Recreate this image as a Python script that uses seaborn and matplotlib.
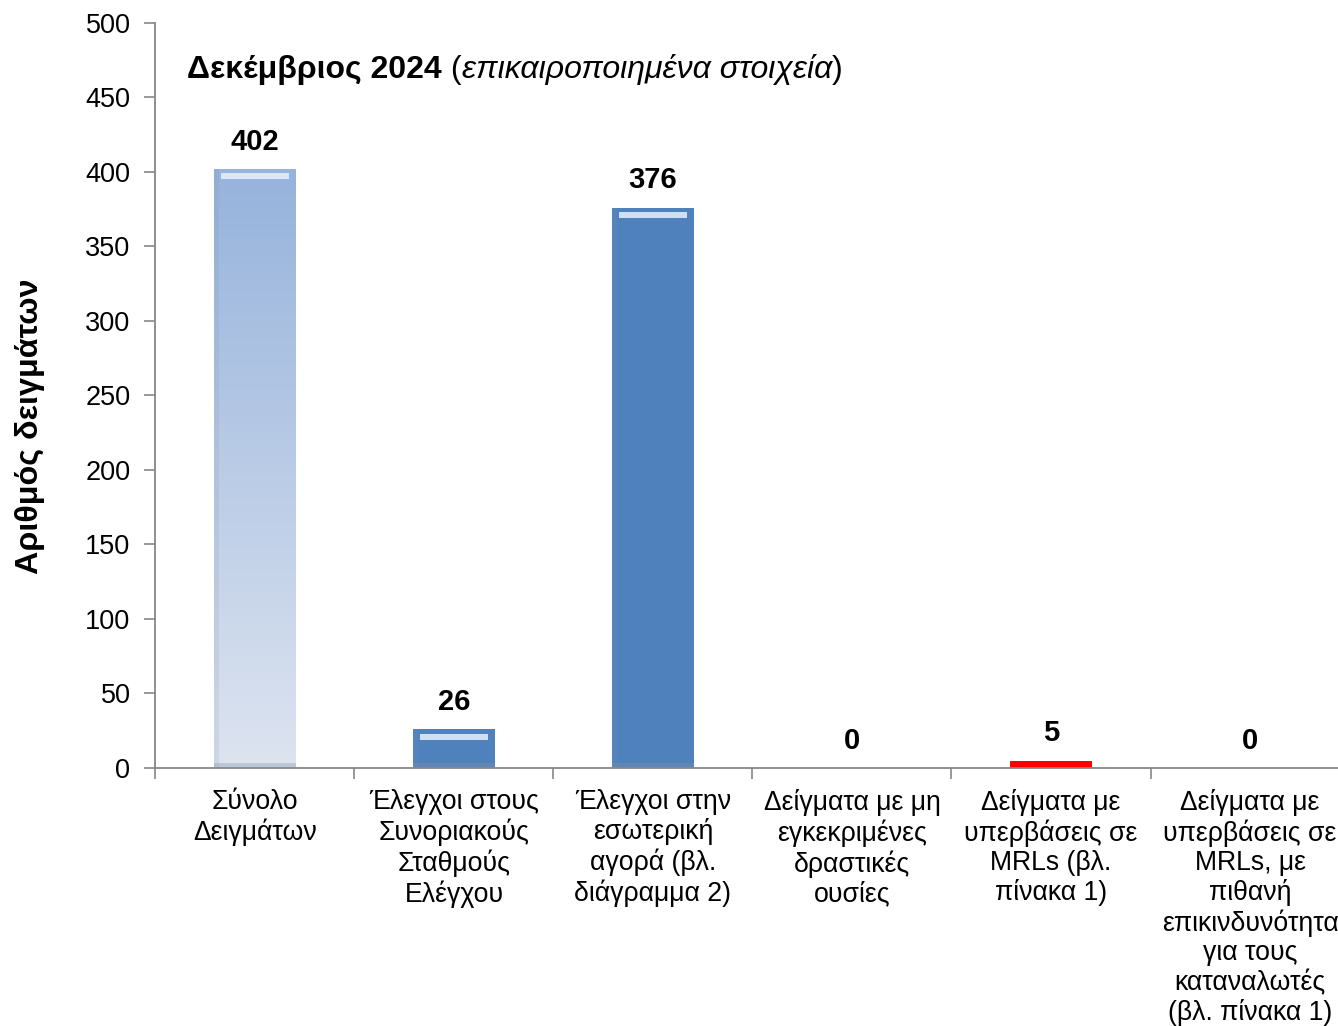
import numpy as np
import matplotlib
matplotlib.use("Agg")
import matplotlib.pyplot as plt
import seaborn as sns

# data
categories = [
    "Σύνολο\nΔειγμάτων",
    "Έλεγχοι στους\nΣυνοριακούς\nΣταθμούς\nΕλέγχου",
    "Έλεγχοι στην\nεσωτερική\nαγορά (βλ.\nδιάγραμμα 2)",
    "Δείγματα με μη\nεγκεκριμένες\nδραστικές\nουσίες",
    "Δείγματα με\nυπερβάσεις σε\nMRLs (βλ.\nπίνακα 1)",
    "Δείγματα με\nυπερβάσεις σε\nMRLs, με\nπιθανή\nεπικινδυνότητα\nγια τους\nκαταναλωτές\n(βλ. πίνακα 1)",
]
values = [402, 26, 376, 0, 5, 0]
bar_colors = ["#A9BEDF", "#4F81BD", "#4F81BD", "#4F81BD", "#FF0000", "#4F81BD"]

sns.set_style("white")
plt.rcParams['font.family'] = ['Liberation Sans', 'DejaVu Sans']
plt.rcParams['text.color'] = 'black'
plt.rcParams['axes.labelcolor'] = 'black'

fig = plt.figure(figsize=(13.38, 10.26), dpi=100)
ax = fig.add_axes([0.1162, 0.2515, 0.8924, 0.7261])

sns.barplot(x=list(range(len(values))), y=values, hue=list(range(len(values))),
            palette=bar_colors, legend=False, width=0.412, saturation=1,
            edgecolor="none", ax=ax)

# gradient fill for the first bar, bevel-like strips on each bar
for i, p in enumerate(ax.patches):
    x0, w, h = p.get_x(), p.get_width(), p.get_height()
    if h <= 0:
        continue
    if i == 0:
        grad = np.linspace(0, 1, 256).reshape(-1, 1)
        cmap = matplotlib.colors.LinearSegmentedColormap.from_list(
            "g", ["#DDE4F0", "#96B3DC"])
        im = ax.imshow(grad, cmap=cmap, aspect="auto", origin="lower",
                       extent=[x0, x0 + w, 0, h], zorder=p.get_zorder() + 0.1)
        im.set_clip_path(p)
    if h > 10:
        ax.fill_between([x0 + w * 0.08, x0 + w * 0.92], h - 7, h - 3,
                        color="#E8F2FF", alpha=0.85, lw=0, zorder=5)
        ax.fill_between([x0, x0 + w], 0, 3, color="#7F90A8", alpha=0.35,
                        lw=0, zorder=5)
        ax.fill_between([x0, x0 + w * 0.06], 0, h, color="#7F90A8", alpha=0.15,
                        lw=0, zorder=5)

for i, v in enumerate(values):
    ax.text(i, v + 9, str(v), ha="center", va="bottom",
            fontsize=21, fontweight="bold")

ax.set_xlim(-0.5, len(values) - 0.5)
ax.set_ylim(0, 500)
ax.set_yticks(range(0, 501, 50))
ax.tick_params(axis="y", labelsize=19.5, length=8, width=1.2, pad=10,
               color="#868686", labelcolor="black", direction="out", left=True)

ax.set_xticks(range(len(values)))
ax.set_xticklabels(categories, fontsize=19.2, linespacing=1.16)
ax.set_xticks(np.arange(-0.5, len(values), 1), minor=True)
ax.tick_params(axis="x", which="major", length=0, pad=15, labelcolor="black")
ax.tick_params(axis="x", which="minor", length=8, width=1.2,
               color="#868686", direction="out", bottom=True)

for s in ["top", "right"]:
    ax.spines[s].set_visible(False)
for s in ["left", "bottom"]:
    ax.spines[s].set_color("#868686")
    ax.spines[s].set_linewidth(1.3)

ax.set_ylabel("Αριθμός δειγμάτων", fontsize=23.3, fontweight="bold", va="center")
ax.yaxis.set_label_coords((30 - 155) / 1194, 0.459)

# title built from bold, normal and italic pieces
renderer = fig.canvas.get_renderer()
parts = [("Δεκέμβριος 2024", "bold", "normal"), (" (", "normal", "normal"),
         ("επικαιροποιημένα στοιχεία", "normal", "italic"), (")", "normal", "normal")]
x = 32 / 1194
for txt, wt, st in parts:
    t = ax.text(x, 0.937, txt, transform=ax.transAxes, fontsize=23,
                fontweight=wt, fontstyle=st, va="center", ha="left")
    bb = t.get_window_extent(renderer=renderer)
    x += bb.width / ax.get_window_extent(renderer=renderer).width

fig.savefig("out.png", dpi=100)
